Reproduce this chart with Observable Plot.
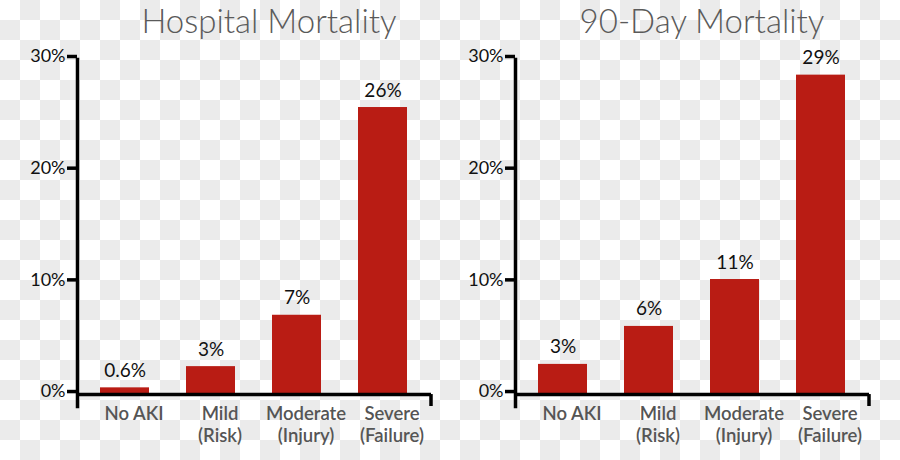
<!DOCTYPE html>
<html>
<head>
<meta charset="utf-8">
<script src="https://cdn.jsdelivr.net/npm/d3@7"></script>
<script src="https://cdn.jsdelivr.net/npm/@observablehq/plot@0.6"></script>
<style>
  html, body { margin: 0; padding: 0; }
  body {
    width: 900px; height: 460px; overflow: hidden;
    background: repeating-conic-gradient(#ebebeb 0 25%, #ffffff 0 50%) 0 0 / 40px 40px;
    font-family: Lato, "Open Sans", sans-serif;
  }
  #wrap { position: relative; width: 900px; height: 460px; }
  .panel { position: absolute; top: 0; width: 450px; height: 460px; }
  .title {
    position: absolute; top: 0; width: 450px; text-align: center;
    font-family: Lato, "Open Sans", sans-serif; font-weight: 300;
    font-size: 33px; line-height: 40px; color: #5a5a5a; white-space: nowrap;
  }
  .chart { position: absolute; top: 40px; left: 0; }
</style>
</head>
<body>
<div id="wrap"></div>
<script>
const categories = ["No AKI", "Mild (Risk)", "Moderate (Injury)", "Severe (Failure)"];
const categoryLabels = ["No AKI", "Mild\n(Risk)", "Moderate\n(Injury)", "Severe\n(Failure)"];
const hospitalValues = [0.6, 2.5, 7.1, 25.7];
const hospitalLabels = ["0.6%", "3%", "7%", "26%"];
const day90Values = [2.7, 6.1, 10.3, 28.6];
const day90Labels = ["3%", "6%", "11%", "29%"];
const yTicks = [0, 10, 20, 30];
const titles = ["Hospital Mortality", "90-Day Mortality"];

const RED = "#b91c14";
const AXIS_W = 3.5;
const Y_MIN = -1.07;

function makePanel(title, values, labels, left, titleShift) {
  const data = categories.map((c, i) => ({cat: c, value: values[i], label: labels[i]}));
  const panel = document.createElement("div");
  panel.className = "panel";
  panel.style.left = left + "px";
  const t = document.createElement("div");
  t.className = "title";
  t.style.left = titleShift + "px";
  t.textContent = title;
  panel.appendChild(t);

  const endTick = (index, scales, values, dims) => {
    const x = dims.width - dims.marginRight;
    return d3.create("svg:line")
      .attr("x1", x).attr("x2", x)
      .attr("y1", scales.y(0)).attr("y2", scales.y(Y_MIN))
      .attr("stroke", "#000").attr("stroke-width", AXIS_W)
      .node();
  };

  const chart = Plot.plot({
    width: 450,
    height: 420,
    marginLeft: 77,
    marginRight: 19,
    marginTop: 19,
    marginBottom: 54,
    style: {background: "transparent", fontFamily: "Lato, 'Open Sans', sans-serif", overflow: "visible"},
    x: {type: "band", domain: categories, paddingInner: 0.43, paddingOuter: 0.25},
    y: {domain: [Y_MIN, 30]},
    marks: [
      Plot.barY(data, {x: "cat", y: "value", fill: RED}),
      Plot.text(data, {x: "cat", y: "value", text: "label", dy: -11, lineAnchor: "bottom", fontSize: 19, fill: "#111"}),
      Plot.frame({anchor: "left", stroke: "#000", strokeWidth: AXIS_W}),
      Plot.ruleY([0], {stroke: "#000", strokeWidth: AXIS_W}),
      endTick,
      Plot.axisY({ticks: yTicks, tickFormat: d => d + "%", tickSize: 10, tickPadding: 2, strokeWidth: AXIS_W, stroke: "#000", fontSize: 18, fill: "#111", dy: -3, label: null}),
      Plot.axisX({tickSize: 0, tickPadding: 0, dy: -2, dx: 9, tickFormat: (d) => categoryLabels[categories.indexOf(d)], fontSize: 18.5, fontWeight: 600, fill: "#555", lineHeight: 1.2, label: null})
    ]
  });
  chart.classList.add("chart");
  panel.appendChild(chart);
  document.getElementById("wrap").appendChild(panel);
}

makePanel(titles[0], hospitalValues, hospitalLabels, 0, 44);
makePanel(titles[1], day90Values, day90Labels, 438, 39);
</script>
</body>
</html>
